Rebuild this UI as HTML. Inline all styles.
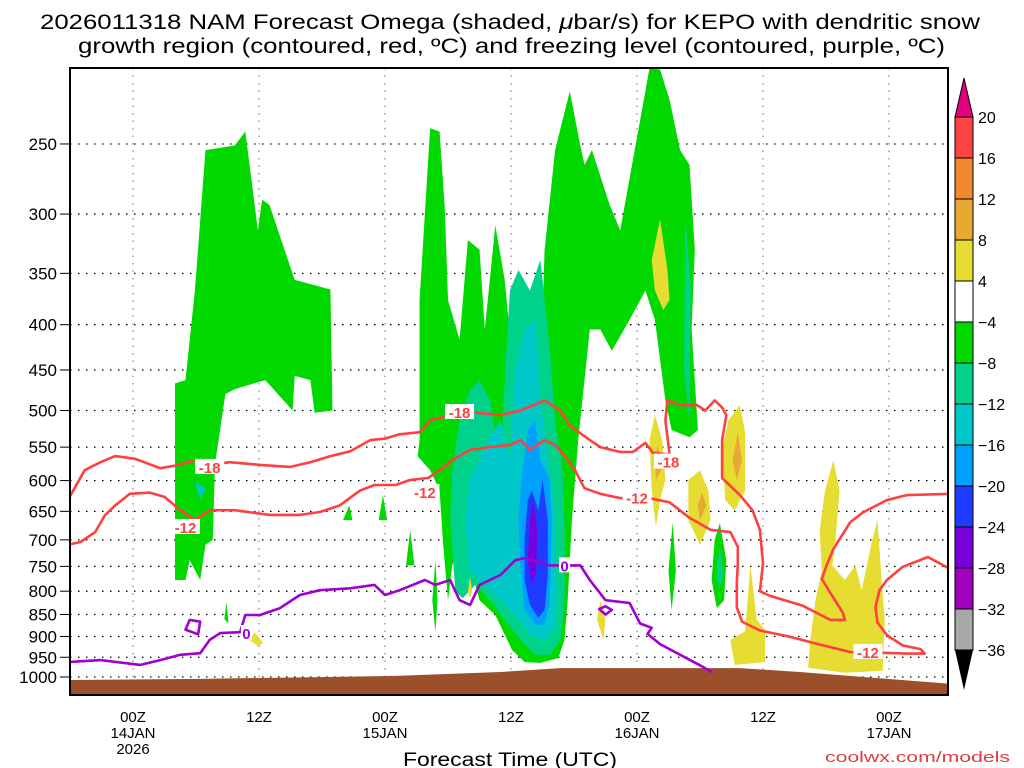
<!DOCTYPE html>
<html><head><meta charset="utf-8"><style>
html,body{margin:0;padding:0;background:#fff;width:1024px;height:768px;overflow:hidden}
svg{display:block;font-family:"Liberation Sans","DejaVu Sans",sans-serif}
</style></head><body>
<svg id="chart" width="1024" height="768" viewBox="0 0 1024 768">
<text x="40" y="29" textLength="940" lengthAdjust="spacingAndGlyphs" font-size="21" fill="#000">2026011318 NAM Forecast Omega (shaded, <tspan font-style="italic">μ</tspan>bar/s) for KEPO with dendritic snow</text>
<text x="78" y="53" textLength="867" lengthAdjust="spacingAndGlyphs" font-size="21" fill="#000">growth region (contoured, red, ºC) and freezing level (contoured, purple, ºC)</text>
<defs><clipPath id="plotclip"><rect x="70" y="68" width="878" height="627"/></clipPath></defs>
<g id="grid"></g>
<g id="shade" clip-path="url(#plotclip)"></g>
<g id="ground" clip-path="url(#plotclip)"></g>
<g id="lines" clip-path="url(#plotclip)"></g>
<rect x="70" y="68" width="878" height="627" fill="none" stroke="#000" stroke-width="2"/>
<g id="yaxis"></g>
<g id="xaxis"></g>
<text x="403" y="766" textLength="214" lengthAdjust="spacingAndGlyphs" font-size="19">Forecast Time (UTC)</text>
<text x="825" y="762" textLength="185" lengthAdjust="spacingAndGlyphs" font-size="15" fill="#e03c3c">coolwx.com/models</text>
<g id="cbar"></g>
</svg>
<script>
// ---- data ----
const pressureTicks=[250,300,350,400,450,500,550,600,650,700,750,800,850,900,950,1000];
const timeTickHours=[6,18,30,42,54,66,78];
const timeTickLabels=[["00Z","14JAN","2026"],["12Z"],["00Z","15JAN"],["12Z"],["00Z","16JAN"],["12Z"],["00Z","17JAN"]];
const cbarLevels=["20","16","12","8","4","−4","−8","−12","−16","−20","−24","−28","−32","−36"];
const cbarColors=["#ff4444","#f08830","#e6aa32","#e6dc32","#ffffff","#00d800","#00d28c","#00c8c8","#00a0ff","#1e3cff","#7800dc","#a000c0","#a8a8a8"];
const groundSurface=[[-1,1008],[12.4,1005],[31.4,997],[41,987],[46.7,977],[52.4,977],[63.8,977],[69.5,987],[77.1,1003],[84,1018]];
const greenRegions=[
[[10,466],[11,462],[11.9,366],[12.9,254],[15.7,251],[16.7,242],[17.9,313],[18.3,289],[19,293],[21.4,356],[24.8,365],[25,500],[23.3,503],[22.9,462],[21.4,457],[21.2,500],[18.6,462],[15.7,473],[14.8,479],[13.8,576],[13.6,700],[12.9,709],[12.4,777],[11.4,738],[11,777],[10,777],[10,576]],
[[33.3,540],[33.3,375],[34.3,240],[35.2,242],[35.7,297],[36,375],[37.1,416],[37.9,321],[39,329],[39.5,405],[40.5,309],[41.4,356],[42.4,474],[43.3,395],[44.8,462],[45.2,329],[46.2,254],[47.6,218],[48.6,251],[49,264],[49.7,254],[51.4,293],[52.4,313],[54.3,235],[55.2,205],[56.2,206],[57.1,223],[58.1,254],[59,264],[59.5,329],[59.2,405],[59.8,526],[59,536],[57.3,526],[56.7,487],[55.7,395],[54.8,366],[53.3,395],[51.6,428],[50.5,405],[49.5,405],[49,462],[48.4,540],[47.8,665],[47.4,819],[47.1,908],[46.5,952],[44.8,964],[43.3,962],[42.1,932],[40.5,851],[39,819],[38.1,748],[37.1,709],[36.4,748],[36,819],[35.5,700],[35.2,615],[34.3,584],[33.1,563]],
[[61.9,670],[62.5,738],[62.3,819],[61.6,836],[61.1,777],[61.4,700]],
[[57.4,669],[57.7,758],[57.3,840],[57,758]],
[[29.8,623],[30.2,665],[29.4,665]],
[[26.6,640],[26.9,665],[26,665]],
[[32.4,683],[32.8,748],[32,748]],
[[34.8,738],[35,819],[34.8,890],[34.5,819]],
[[14.9,823],[15.1,870],[14.7,860]]
];
const tealRegions=[
[[36.7,800],[36.2,665],[36.4,584],[37.1,513],[38.1,474],[39,462],[40,487],[41,584],[41.4,462],[41.9,366],[42.7,347],[43.8,366],[44.8,338],[45.2,375],[45.7,428],[46.2,513],[46.9,584],[47.1,665],[47.1,819],[46.7,908],[45.7,944],[44.3,944],[42.9,908],[41.4,862],[40,819],[38.6,787],[37.4,815]],
[[61.9,713],[62.2,767],[61.8,798],[61.6,748]],
[[58.6,300],[59.1,360],[59,520],[58.5,450]]
];
const cyanRegions=[
[[38.1,758],[37.6,665],[38.1,599],[39.8,540],[41,513],[41.9,569],[42.4,450],[43.3,405],[44.3,395],[44.8,487],[45.7,584],[46.2,665],[46.4,819],[46.2,883],[45.2,908],[43.8,896],[42.4,851],[41,819],[39.5,787]],
[[11.9,601],[12.9,612],[12.4,631]]
];
const lightBlueRegions=[[[42.9,758],[42.7,665],[43,599],[43.6,527],[44.3,513],[44.8,569],[45.7,599],[45.9,665],[45.7,819],[45.2,873],[44.3,873],[43.3,840]]];
const blueRegions=[[[43.3,777],[43.3,700],[43.6,631],[44,616],[44.6,648],[45,599],[45.5,665],[45.5,767],[45.2,840],[44.6,857],[43.8,829]]];
const purpleRegions=[[[43.6,738],[43.8,665],[44.1,631],[44.5,683],[44.4,758],[44,787]]];
const yellowRegions=[
[[56.2,304],[56.9,347],[57.1,375],[56.5,385],[55.7,366],[55.4,338]],
[[55.7,506],[56.4,540],[56.7,599],[56.2,631],[55.8,677],[55.4,615],[55.2,540]],
[[60,584],[60.8,616],[61,665],[60,709],[58.9,665],[58.9,599]],
[[63.8,493],[64.3,529],[64.3,616],[63.3,648],[62.4,631],[62.1,554],[62.7,513]],
[[64.8,748],[65.4,862],[66.2,884],[66.2,962],[63.3,969],[62.9,908],[64.3,888]],
[[72.7,569],[73.3,616],[72.9,700],[72.6,748],[73.8,777],[74.8,748],[75.4,798],[76.4,700],[76.9,665],[77.3,777],[77.6,862],[77.4,984],[73.8,989],[70.3,976],[70.5,908],[71,819],[71.6,758],[71.4,683],[71.9,616]],
[[50.5,819],[51,862],[50.8,908],[50.2,862]],
[[17.6,890],[18.4,916],[17.9,923],[17.1,908]],
[[38.1,770],[38.3,800],[38.1,815],[37.9,800]]
];
const orangeRegions=[
[[56,547],[56.3,584],[55.8,599],[55.7,562]],
[[60.2,619],[60.6,640],[60,665],[59.8,640]],
[[63.6,529],[64,569],[63.5,599],[63.1,569]]
];
const minus18Line=[[-0.2,631],[1.4,584],[2.9,572],[4.3,563],[6.2,567],[8.6,581],[10,577],[11.9,569],[13.3,576],[15.2,572],[18.1,576],[21,579],[22.9,572],[24.8,563],[26.7,556],[28.6,540],[30,538],[31.4,532],[33.3,529],[34.3,513],[36.2,506],[38.1,502],[41,506],[42.9,500],[45.2,487],[46.7,500],[47.6,520],[49.5,540],[50.5,550],[52.4,557],[53.6,557],[54.8,544],[55.5,558],[57.1,561],[56.7,513],[56.9,487],[58.1,493],[59.7,493],[60.5,500],[61.4,487],[62.1,496],[62.5,506],[62.1,540],[62.1,596],[63.8,623],[65,648],[65.7,682],[66,744],[65.7,800],[66.7,810],[69.8,831],[72.4,862],[73.8,862],[73.6,846],[71.6,775],[72.1,746],[72.7,717],[74.3,669],[75.5,652],[77.8,631],[79.7,623],[84,621]];
const minus12Line=[[-0.2,709],[1,704],[2.4,686],[3.3,657],[4.3,640],[5.7,621],[7.6,619],[9,626],[10.5,648],[11.9,665],[13.3,648],[15.7,648],[19,656],[21.9,656],[23.8,651],[25.7,640],[27.6,616],[29,607],[31,607],[32.4,599],[34.1,596],[35.2,584],[36.7,566],[38.1,554],[40,550],[41.9,547],[42.9,540],[43.8,554],[45.2,540],[46.2,547],[47.1,562],[48.1,584],[49,612],[50.5,621],[52.4,628],[55.4,629],[57.1,635],[59,661],[61,682],[62.9,686],[63.6,713],[63.6,744],[63.5,783],[63.5,834],[64,866],[65.7,886],[68.3,899],[71.4,919],[74.3,937],[77.4,939],[79.7,941],[81.4,941],[81,930],[79.3,921],[77.8,897],[76.9,868],[76.7,834],[77.1,798],[77.8,777],[79.3,751],[81.7,732],[84,757]];
const freezingLine=[[-0.2,962],[2.9,957],[6.7,969],[8.6,957],[10.5,944],[12.4,940],[13.3,908],[14.3,892],[16.2,890],[16.7,851],[18.1,851],[20,836],[21.9,808],[23.8,798],[26.7,794],[29,787],[30,808],[31.4,798],[33.8,777],[34.8,787],[36.2,777],[37.1,819],[38.1,829],[39,787],[41,767],[42.4,738],[43.3,734],[45.7,748],[48.6,748],[49.5,777],[51,819],[53.3,825],[54.3,870],[55.4,880],[55,894],[56.2,918],[60,970],[61.1,987]];
const freezingLoop=[[11.4,862],[12.4,866],[12.2,895],[11,884]];
const freezingLoop2=[[50.4,838],[51,832],[51.6,840],[51,850]];
const redLabels=[["-18",13.3,579],["-18",37.1,502],["-18",57,571],["-12",11,677],["-12",33.8,618],["-12",54,627],["-12",76,937]];
const purpleLabels=[["0",47.1,748],["0",16.8,892]];

const NS="http://www.w3.org/2000/svg";
const X0=70, XS=10.5;
function xAt(h){return X0+h*XS;}
function yAt(p){return 677-384.5*Math.log(1000/p);}
function mk(tag,attrs,parent){const e=document.createElementNS(NS,tag);for(const k in attrs)e.setAttribute(k,attrs[k]);parent.appendChild(e);return e;}
function pts(arr){return arr.map(d=>xAt(d[0]).toFixed(1)+","+yAt(d[1]).toFixed(1)).join(" ");}

const grid=document.getElementById('grid');
const yaxis=document.getElementById('yaxis');
pressureTicks.forEach(p=>{
  const y=yAt(p);
  const l=mk('line',{x1:70,x2:948,y1:y,y2:y,stroke:'#000','stroke-width':1.3,'stroke-dasharray':'1.5 6.5'},grid);
  
  
  const t=mk('text',{x:57,y:y+6,'text-anchor':'end','font-size':17},yaxis);
  t.textContent=p;
  
  
  mk('line',{x1:60,x2:70,y1:y,y2:y,stroke:'#000','stroke-width':1},yaxis);
});
const xaxis=document.getElementById('xaxis');
timeTickHours.forEach((h,i)=>{
  const x=xAt(h);
  const l=mk('line',{x1:x,x2:x,y1:68,y2:695,stroke:'#888','stroke-width':1.2,'stroke-dasharray':'1.5 6'},grid);
  
  
  timeTickLabels[i].forEach((s,j)=>{
    const t=mk('text',{x:x,y:722+j*16,'text-anchor':'middle','font-size':15},xaxis);
    t.textContent=s;
    
    
  });
});

const shade=document.getElementById('shade');
function drawRegions(list,color,name){
  list.forEach(poly=>{
    const e=mk('polygon',{points:pts(poly),fill:color},shade);
    
    
  });
}
drawRegions(greenRegions,'#00d800','omega-region-minus4');
drawRegions(tealRegions,'#00d28c','omega-region-minus8');
drawRegions(cyanRegions,'#00c8c8','omega-region-minus12');
drawRegions(lightBlueRegions,'#00a0ff','omega-region-minus16');
drawRegions(blueRegions,'#1e3cff','omega-region-minus20');
drawRegions(purpleRegions,'#7800dc','omega-region-minus24');
drawRegions(yellowRegions,'#e6dc32','omega-region-plus4');
drawRegions(orangeRegions,'#e6aa32','omega-region-plus8');
const gpoly=groundSurface.concat([[84,1100],[-1,1100]]);
const g=mk('polygon',{points:pts(gpoly),fill:'#9b4f2a'},document.getElementById('ground'));



const lines=document.getElementById('lines');
function drawLine(arr,color,name,closed){
  const e=mk(closed?'polygon':'polyline',{points:pts(arr),fill:'none',stroke:color,'stroke-width':2.6,'stroke-linejoin':'round'},lines);
  
  
}
drawLine(minus18Line,'#ff4040','contour-minus18');
drawLine(minus12Line,'#ff4040','contour-minus12');
drawLine(freezingLine,'#a000d0','freezing-level-line');
drawLine(freezingLoop,'#a000d0','freezing-level-loop',true);
drawLine(freezingLoop2,'#a000d0','freezing-level-loop',true);
function drawLabels(list,color,name){
  list.forEach(d=>{
    const x=xAt(d[1]),y=yAt(d[2]);
    const w=d[0].length*9+2;
    mk('rect',{x:x-w/2,y:y-8,width:w,height:15,fill:'#fff'},lines);
    const t=mk('text',{x:x,y:y+6,'text-anchor':'middle','font-size':15,'font-weight':'bold',fill:color},lines);
    t.textContent=d[0];
    
    
  });
}
drawLabels(redLabels,'#ff4040','contour-label');
drawLabels(purpleLabels,'#a000d0','freezing-level-label');

const cb=document.getElementById('cbar');
const cbTop=117, cbStep=41, cbX=955, cbW=18;
mk('polygon',{points:`${cbX},${cbTop} ${cbX+cbW},${cbTop} ${cbX+cbW/2},${cbTop-39}`,fill:'#e0007a',stroke:'#000','stroke-width':1},cb);
cbarColors.forEach((c,i)=>{
  const r=mk('rect',{x:cbX,y:cbTop+i*cbStep,width:cbW,height:cbStep,fill:c,stroke:'#000','stroke-width':1},cb);
  
  
});
const cbBot=cbTop+cbarColors.length*cbStep;
mk('polygon',{points:`${cbX},${cbBot} ${cbX+cbW},${cbBot} ${cbX+cbW/2},${cbBot+40}`,fill:'#000'},cb);
cbarLevels.forEach((s,i)=>{
  const t=mk('text',{x:978,y:cbTop+i*cbStep+6,'font-size':16},cb);
  t.textContent=s;
  
  
});
</script>
</body></html>
